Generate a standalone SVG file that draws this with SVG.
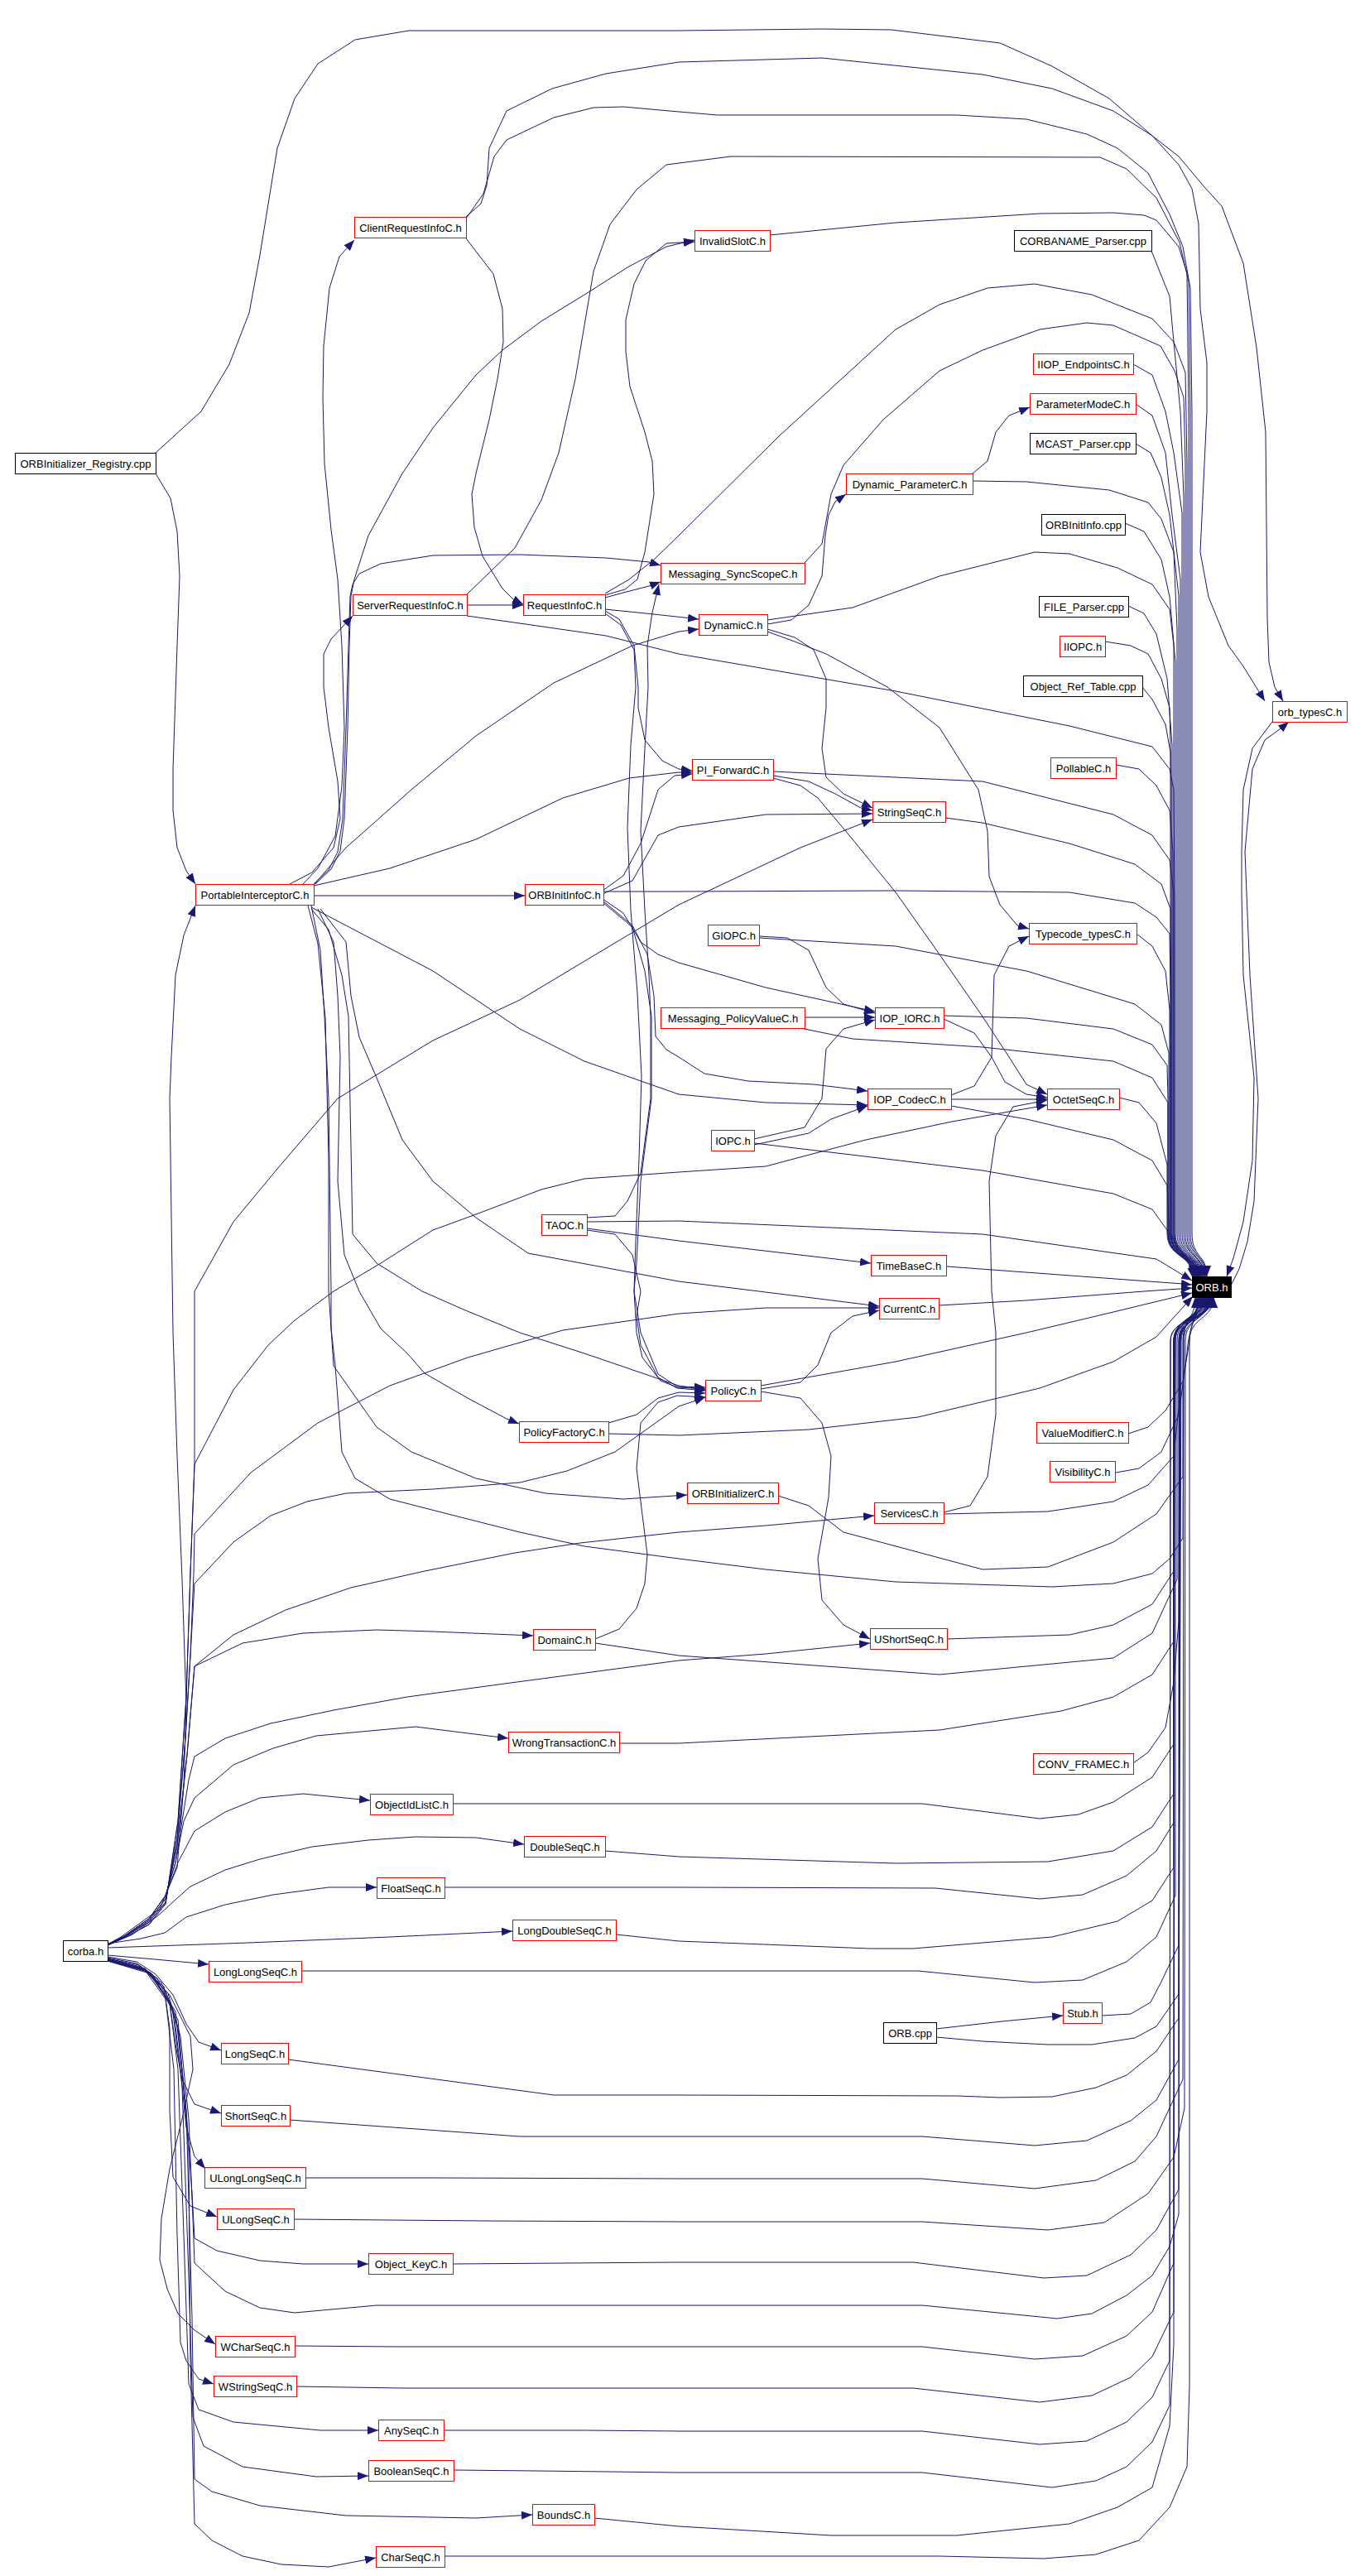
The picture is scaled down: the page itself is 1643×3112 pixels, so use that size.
<svg xmlns="http://www.w3.org/2000/svg" width="1643" height="3112" viewBox="0 0 1643 3112">
<style>
.n rect{fill:#fff;stroke:#ff0000;stroke-width:1}
.b rect{stroke:#000}
.k rect{fill:#000;stroke:#000}
.n text{font-family:"Liberation Sans",Arial,sans-serif;font-size:13px;text-anchor:middle;fill:#000}
.k text{fill:#fff}
#edges path{fill:none;stroke:#191970;stroke-width:1;stroke-linejoin:round;marker-end:url(#a)}
</style>
<defs>
<marker id="a" markerWidth="13" markerHeight="10" refX="13" refY="5" orient="auto" markerUnits="userSpaceOnUse"><path d="M0,0 L13,5 L0,10 z" fill="#191970"/></marker>
</defs>
<rect width="1643" height="3112" fill="#fff"/>
<g id="edges">
<path d="M188,572 L206,602 L214,642 L217,696 L214,780 L209,929 L209,979 L214,1024 L225,1052 L236,1068"/>
<path d="M188,547 L243,497 L277,440 L301,378 L314,308 L335,179 L356,119 L384,77 L429,48 L494,37 L820,37 L993,35 L1077,36 L1208,52 L1271,80 L1340,119 L1392,164 L1424,189 L1455,226 L1476,249 L1502,318 L1518,420 L1529,522 L1531,746 L1533,800 L1540,830 L1550,847"/>
<path d="M563,262 L581,246 L588,224 L591,179 L612,134 L667,107 L732,89 L820,75 L993,70 L1187,90 L1271,107 L1345,134 L1392,164 L1424,199 L1440,228 L1448,270 L1450,373 L1458,438 L1458,497 L1450,667 L1460,721 L1484,780 L1502,805 L1528,847"/>
<path d="M563,264 L584,234 L597,189 L612,169 L669,142 L717,130 L753,129 L820,135 L867,139 L1156,139 L1240,144 L1313,162 L1350,179 L1387,209 L1413,259 L1429,298 L1438,348 L1440,500 L1440,1490 C1440,1520 1458,1515 1458,1542"/>
<path d="M564,718 L622,662 L654,604 L675,547 L695,458 L717,328 L737,271 L769,229 L805,199 L883,189 L1329,190 L1361,204 L1397,239 L1425,293 L1436,340 L1438,500 L1438,1490 C1438,1520 1457,1515 1457,1542"/>
<path d="M930,284 L1082,269 L1256,258 L1345,257 L1382,260 L1397,266 L1424,298 L1434,330 L1436,500 L1436,1490 C1436,1520 1456,1515 1456,1542"/>
<path d="M1391,303 L1413,358 L1418,413 L1426,497 L1430,600 L1430,1490 C1430,1520 1455,1515 1455,1542"/>
<path d="M731,717 L760,700 L790,676 L820,647 L941,527 L1082,398 L1135,368 L1193,348 L1250,343 L1319,356 L1392,385 L1418,413 L1432,450 L1434,560 L1434,1490 C1434,1520 1454,1515 1454,1542"/>
<path d="M972,680 L993,657 L1004,597 L1019,562 L1067,507 L1135,448 L1187,423 L1256,398 L1313,390 L1345,393 L1402,418 L1419,448 L1430,480 L1432,560 L1432,1490 C1432,1520 1453,1515 1453,1542"/>
<path d="M1369,440 L1392,453 L1408,497 L1418,547 L1428,620 L1428,1490 C1428,1520 1452,1515 1452,1542"/>
<path d="M1372,488 L1392,502 L1408,547 L1416,622 L1426,700 L1426,1490 C1426,1520 1451,1515 1451,1542"/>
<path d="M1372,536 L1390,547 L1403,577 L1413,622 L1424,720 L1424,1490 C1424,1520 1450,1515 1450,1542"/>
<path d="M1175,581 L1240,582 L1340,592 L1387,607 L1403,627 L1418,667 L1422,760 L1422,1490 C1422,1520 1449,1515 1449,1542"/>
<path d="M1175,572 L1193,557 L1203,522 L1219,502 L1244,492"/>
<path d="M1359,632 L1382,642 L1403,676 L1413,721 L1420,800 L1420,1490 C1420,1520 1449,1515 1449,1542"/>
<path d="M927,749 L1030,734 L1135,696 L1250,667 L1292,669 L1350,686 L1392,706 L1413,736 L1418,780 L1418,1490 C1418,1520 1448,1515 1448,1542"/>
<path d="M927,754 L956,749 L977,731 L993,696 L997,647 L1001,622 L1009,606 L1022,597"/>
<path d="M1363,732 L1382,741 L1397,766 L1410,820 L1416,900 L1416,1490 C1416,1520 1447,1515 1447,1542"/>
<path d="M564,744 L628,753 L732,768 L820,790 L1082,835 L1292,877 L1392,902 L1413,929 L1418,954 L1419,1100 L1419,1490 C1419,1520 1447,1515 1447,1542"/>
<path d="M1335,775 L1366,780 L1387,790 L1403,820 L1413,855 L1415,950 L1415,1490 C1415,1520 1446,1515 1446,1542"/>
<path d="M1380,830 L1392,845 L1408,875 L1414,909 L1414,1490 C1414,1520 1446,1515 1446,1542"/>
<path d="M934,932 L1187,944 L1345,984 L1392,1009 L1413,1039 L1418,1078 L1418,1490 C1418,1520 1445,1515 1445,1542"/>
<path d="M934,937 L977,944 L1009,959 L1040,976 L1054,979"/>
<path d="M934,940 L967,949 L988,964 L1030,1014 L1082,1078 L1135,1153 L1187,1228 L1219,1277 L1240,1310 L1265,1322"/>
<path d="M1348,924 L1376,929 L1397,949 L1413,979 L1417,1029 L1417,1490 C1417,1520 1445,1515 1445,1542"/>
<path d="M1142,988 L1187,994 L1292,1019 L1371,1044 L1403,1068 L1414,1098 L1415,1200 L1415,1490 C1415,1520 1444,1515 1444,1542"/>
<path d="M728,1077 L820,1077 L1082,1076 L1292,1078 L1371,1091 L1397,1108 L1413,1128 L1414,1200 L1414,1490 C1414,1520 1444,1515 1444,1542"/>
<path d="M1373,1128 L1392,1143 L1408,1173 L1413,1220 L1413,1490 C1413,1520 1443,1515 1443,1542"/>
<path d="M917,1133 L1082,1143 L1240,1173 L1371,1213 L1403,1238 L1412,1272 L1412,1490 C1412,1520 1443,1515 1443,1542"/>
<path d="M917,1131 L951,1133 L977,1148 L998,1193 L1019,1213 L1057,1224"/>
<path d="M972,1229 L1057,1229"/>
<path d="M967,1242 L1030,1255 L1187,1265 L1345,1282 L1392,1302 L1411,1332 L1411,1490 C1411,1520 1442,1515 1442,1542"/>
<path d="M1140,1227 L1240,1230 L1345,1243 L1392,1262 L1410,1287 L1411,1327 L1411,1490 C1411,1520 1442,1515 1442,1542"/>
<path d="M1140,1231 L1177,1248 L1198,1277 L1214,1307 L1240,1322 L1265,1326"/>
<path d="M1149,1328 L1265,1328"/>
<path d="M1149,1323 L1177,1312 L1198,1277 L1201,1178 L1219,1143 L1243,1131"/>
<path d="M1149,1336 L1240,1352 L1345,1377 L1392,1402 L1410,1432 L1412,1476 L1412,1490 C1412,1520 1441,1515 1441,1542"/>
<path d="M1352,1326 L1376,1332 L1397,1357 L1410,1407 L1410,1490 C1410,1520 1441,1515 1441,1542"/>
<path d="M911,1381 L1187,1414 L1345,1442 L1392,1461 L1410,1486 C1425,1508 1438,1522 1441,1544"/>
<path d="M911,1376 L972,1362 L993,1327 L998,1267 L1019,1243 L1057,1232"/>
<path d="M911,1383 L977,1369 L1004,1352 L1048,1336"/>
<path d="M709,1476 L820,1475 L1187,1491 L1397,1521 L1440,1547"/>
<path d="M709,1484 L820,1499 L1052,1526"/>
<path d="M709,1471 L743,1469 L758,1451 L774,1417 L786,1327 L786,1228 L784,1178 L779,1100 L774,1004 L779,904 L783,830 L782,780 L788,740 L796,706"/>
<path d="M709,1486 L743,1491 L764,1516 L774,1560 L769,1590 L774,1625 L795,1664 L818,1677 L852,1680"/>
<path d="M1144,1530 L1429,1551 L1440,1552"/>
<path d="M1134,1577 L1240,1571 L1382,1560 L1440,1556"/>
<path d="M919,1674 L1082,1645 L1240,1610 L1345,1585 L1440,1562"/>
<path d="M919,1678 L967,1670 L988,1649 L1004,1610 L1030,1590 L1062,1583"/>
<path d="M919,1681 L967,1689 L993,1719 L1004,1759 L1001,1809 L988,1883 L993,1933 L1019,1963 L1051,1980"/>
<path d="M735,1719 L769,1709 L795,1689 L820,1682 L852,1683"/>
<path d="M735,1732 L820,1734 L977,1727 L1109,1712 L1256,1677 L1345,1645 L1397,1615 L1441,1566"/>
<path d="M719,1980 L748,1968 L769,1943 L779,1913 L782,1878 L769,1774 L774,1719 L795,1694 L818,1686 L852,1688"/>
<path d="M719,1985 L820,2000 L1135,2023 L1345,2003 L1392,1973 L1422,1908 L1422,1620 C1422,1590 1451,1595 1451,1567"/>
<path d="M376,1094 L387,1148 L392,1228 L397,1327 L400,1560 L400,1605 L405,1650 L413,1754 L429,1786 L471,1811 L549,1831 L628,1851 L706,1868 L820,1883 L925,1896 L1082,1911 L1271,1917 L1345,1913 L1392,1901 L1413,1883 L1429,1858 L1430,1620 C1430,1590 1444,1595 1444,1567"/>
<path d="M1363,1732 L1387,1724 L1408,1704 L1429,1669 L1437,1620 C1438,1595 1446,1595 1446,1567"/>
<path d="M1348,1779 L1376,1774 L1403,1754 L1424,1709 L1434,1635 C1436,1600 1447,1595 1447,1567"/>
<path d="M940,1807 L977,1819 L1019,1851 L1187,1896 L1266,1893 L1345,1863 L1397,1829 L1429,1784 L1429,1620 C1429,1590 1448,1595 1448,1567"/>
<path d="M1140,1829 L1266,1826 L1345,1814 L1387,1794 L1418,1759 L1424,1700 L1424,1620 C1424,1590 1449,1595 1449,1567"/>
<path d="M1140,1827 L1172,1819 L1193,1784 L1203,1709 L1203,1610 L1198,1560 L1195,1427 L1203,1372 L1224,1337 L1265,1329"/>
<path d="M1144,1980 L1292,1975 L1345,1963 L1392,1938 L1418,1898 L1420,1620 C1420,1590 1450,1595 1450,1567"/>
<path d="M748,2106 L820,2106 L1135,2090 L1282,2067 L1345,2050 L1392,2023 L1418,1983 L1418,1620 C1418,1590 1452,1595 1452,1567"/>
<path d="M1369,2130 L1387,2117 L1408,2087 L1418,2032 L1424,1958 L1425,1620 C1425,1590 1453,1595 1453,1567"/>
<path d="M547,2179 L820,2179 L1114,2179 L1256,2197 L1303,2192 L1345,2177 L1392,2147 L1418,2107 L1418,1620 C1418,1590 1454,1595 1454,1567"/>
<path d="M731,2236 L820,2243 L1082,2251 L1266,2249 L1345,2236 L1392,2207 L1418,2167 L1418,1620 C1418,1590 1455,1595 1455,1567"/>
<path d="M537,2280 L820,2280 L1130,2281 L1256,2294 L1308,2289 L1361,2266 L1397,2236 L1418,2202 L1418,1620 C1418,1590 1456,1595 1456,1567"/>
<path d="M744,2337 L820,2345 L1051,2354 L1103,2354 L1271,2340 L1350,2321 L1392,2296 L1418,2256 L1418,1620 C1418,1590 1457,1595 1457,1567"/>
<path d="M364,2381 L820,2381 L1109,2381 L1250,2395 L1308,2392 L1361,2370 L1397,2340 L1420,2290 L1420,1620 C1420,1590 1458,1595 1458,1567"/>
<path d="M1331,2435 L1366,2433 L1390,2419 L1403,2394 L1424,2350 L1424,1620 C1424,1590 1459,1595 1459,1567"/>
<path d="M1131,2451 L1210,2442 L1284,2435"/>
<path d="M1131,2461 L1187,2466 L1266,2470 L1319,2470 L1371,2462 L1397,2448 L1424,2409 L1426,1620 C1426,1590 1460,1595 1460,1567"/>
<path d="M348,2488 L669,2531 L820,2531 L1156,2532 L1208,2534 L1271,2533 L1324,2522 L1361,2507 L1397,2478 L1424,2438 L1426,1620 C1426,1590 1460,1595 1460,1567"/>
<path d="M350,2561 L628,2581 L820,2581 L1114,2581 L1250,2592 L1313,2586 L1366,2562 L1397,2537 L1424,2488 L1427,1620 C1427,1590 1461,1595 1461,1567"/>
<path d="M369,2631 L523,2631 L820,2632 L1114,2632 L1250,2644 L1324,2634 L1371,2611 L1397,2581 L1429,2512 L1430,1620 C1430,1590 1462,1595 1462,1567"/>
<path d="M355,2681 L586,2683 L820,2684 L1114,2684 L1266,2694 L1334,2685 L1387,2650 L1418,2606 L1431,2547 L1432,1620 C1432,1590 1462,1595 1462,1567"/>
<path d="M547,2735 L820,2733 L1103,2733 L1261,2752 L1313,2749 L1366,2724 L1397,2694 L1424,2645 L1425,1620 C1425,1590 1463,1595 1463,1567"/>
<path d="M130,2367 L174,2379 L203,2408 L218,2460 L228,2560 L233,2680 L235,2734 L272,2768 L314,2788 L356,2794 L455,2785 L820,2785 L1114,2785 L1145,2788 L1277,2801 L1319,2795 L1361,2773 L1392,2749 L1413,2714 L1424,2675 L1425,1620 C1425,1590 1463,1595 1463,1567"/>
<path d="M356,2834 L481,2835 L820,2835 L1114,2835 L1250,2850 L1308,2846 L1361,2822 L1392,2793 L1418,2734 L1419,1620 C1419,1590 1464,1595 1464,1567"/>
<path d="M358,2883 L486,2885 L820,2885 L1103,2885 L1256,2902 L1319,2894 L1366,2872 L1392,2847 L1418,2793 L1419,1620 C1419,1590 1464,1595 1464,1567"/>
<path d="M536,2936 L706,2936 L820,2937 L1114,2937 L1256,2953 L1313,2949 L1361,2926 L1392,2896 L1413,2852 L1414,1620 C1414,1590 1465,1595 1465,1567"/>
<path d="M548,2984 L649,2985 L820,2987 L1114,2987 L1271,3005 L1324,2997 L1361,2980 L1392,2950 L1413,2906 L1414,1620 C1414,1590 1465,1595 1465,1567"/>
<path d="M718,3042 L820,3052 L1004,3063 L1156,3063 L1292,3049 L1350,3029 L1392,3005 L1413,2931 L1418,2832 L1418,1620 C1418,1590 1466,1595 1466,1567"/>
<path d="M537,3088 L820,3088 L1135,3088 L1261,3091 L1324,3086 L1376,3069 L1413,3029 L1434,2980 L1437,2882 L1437,1620 C1437,1590 1466,1595 1466,1567"/>
<path d="M1537,872 L1513,904 L1502,954 L1500,1029 L1500,1078 L1502,1178 L1515,1302 L1513,1402 L1502,1476 L1490,1520 L1482,1542"/>
<path d="M1487,1553 L1497,1533 L1507,1500 L1515,1451 L1520,1327 L1510,1178 L1504,1029 L1513,929 L1528,894 L1550,878 L1557,872"/>
<path d="M130,2349 L146,2340 L193,2306 L214,2256 L222,2157 L225,2057 L220,1908 L214,1759 L209,1610 L205,1327 L207,1277 L212,1178 L222,1130 L236,1094"/>
<path d="M130,2350 L150,2341 L180,2325 L200,2300 L215,2200 L225,2050 L230,1900 L235,1769 L235,1560 L282,1476 L335,1412 L408,1327 L523,1257 L628,1208 L820,1093 L967,1024 L1054,990"/>
<path d="M130,2350 L150,2341 L180,2325 L200,2300 L215,2200 L225,2050 L230,1900 L235,1769 L282,1679 L324,1625 L356,1595 L403,1560 L460,1526 L523,1486 L575,1467 L654,1437 L706,1424 L820,1416 L925,1409 L1046,1377 L1150,1355 L1265,1335"/>
<path d="M130,2350 L150,2340 L180,2322 L200,2298 L214,2220 L224,2100 L230,2000 L234,1900 L235,1853 L303,1779 L384,1719 L471,1674 L565,1640 L680,1607 L820,1587 L925,1580 L1062,1580"/>
<path d="M130,2350 L150,2340 L180,2322 L200,2298 L214,2220 L224,2100 L230,2000 L235,1913 L282,1863 L327,1831 L371,1814 L418,1804 L523,1799 L628,1791 L685,1777 L743,1754 L785,1724 L820,1699 L852,1688"/>
<path d="M130,2350 L150,2340 L180,2320 L200,2294 L214,2230 L226,2120 L235,2013 L282,1975 L345,1945 L424,1918 L513,1898 L622,1876 L701,1864 L820,1851 L925,1843 L1056,1831"/>
<path d="M130,2350 L150,2340 L180,2320 L200,2294 L214,2230 L226,2120 L235,2013 L293,1985 L366,1973 L455,1969 L523,1971 L644,1976"/>
<path d="M130,2349 L150,2339 L180,2318 L200,2290 L212,2250 L220,2200 L228,2150 L235,2122 L272,2100 L327,2082 L403,2066 L492,2050 L617,2033 L820,2006 L925,1998 L1051,1985"/>
<path d="M130,2349 L150,2339 L180,2318 L200,2290 L212,2250 L222,2200 L235,2172 L282,2132 L330,2112 L382,2097 L502,2086 L614,2100"/>
<path d="M130,2349 L150,2339 L180,2318 L200,2290 L215,2250 L235,2212 L272,2189 L314,2172 L366,2167 L447,2175"/>
<path d="M130,2350 L160,2337 L190,2315 L212,2295 L230,2279 L272,2259 L314,2246 L377,2231 L445,2223 L502,2219 L575,2220 L633,2228"/>
<path d="M130,2348 L170,2342 L199,2335 L225,2316 L272,2301 L330,2289 L397,2280 L455,2280"/>
<path d="M130,2353 L300,2347 L471,2340 L619,2333"/>
<path d="M130,2362 L187,2367 L252,2373"/>
<path d="M130,2364 L165,2370 L188,2385 L209,2410 L225,2445 L240,2467 L267,2477"/>
<path d="M130,2365 L165,2372 L190,2390 L205,2420 L212,2470 L220,2512 L235,2542 L267,2553"/>
<path d="M130,2366 L168,2374 L195,2395 L210,2430 L218,2500 L225,2570 L235,2605 L248,2620"/>
<path d="M130,2366 L170,2376 L198,2400 L205,2450 L205,2550 L209,2630 L230,2665 L262,2678"/>
<path d="M130,2367 L172,2378 L200,2405 L215,2450 L225,2550 L232,2650 L235,2704 L262,2719 L314,2731 L366,2735 L445,2735"/>
<path d="M130,2367 L175,2378 L205,2410 L230,2460 L233,2500 L220,2560 L205,2620 L195,2680 L193,2730 L202,2765 L215,2795 L235,2815 L260,2832"/>
<path d="M130,2368 L175,2380 L200,2415 L210,2500 L214,2700 L218,2830 L225,2852 L240,2874 L258,2880"/>
<path d="M130,2368 L178,2381 L205,2420 L215,2500 L222,2700 L228,2880 L240,2911 L282,2926 L387,2936 L457,2936"/>
<path d="M130,2368 L180,2382 L208,2425 L220,2520 L228,2750 L233,2920 L246,2955 L293,2980 L382,2992 L445,2991"/>
<path d="M130,2369 L182,2383 L212,2430 L225,2550 L232,2800 L235,2995 L256,3010 L314,3027 L418,3039 L575,3042 L643,3038"/>
<path d="M130,2369 L184,2385 L215,2440 L228,2600 L230,2850 L235,3049 L256,3069 L293,3088 L340,3098 L397,3101 L454,3090"/>
<path d="M350,1068 L377,1054 L403,1024 L411,989 L408,944 L397,879 L391,830 L391,790 L400,772 L414,757 L426,744"/>
<path d="M366,1068 L384,1049 L405,1010 L413,950 L416,880 L413,780 L408,700 L400,640 L392,560 L390,480 L391,418 L398,348 L410,310 L428,290"/>
<path d="M379,1068 L397,1051 L408,1029 L414,989 L418,879 L421,780 L423,720 L426,706 L434,693 L460,681 L523,671 L628,670 L732,674 L784,679 L798,683"/>
<path d="M381,1068 L400,1050 L411,1028 L416,989 L420,879 L422,780 L424,720 L428,700 L445,647 L486,572 L523,517 L575,453 L607,423 L654,388 L711,353 L758,323 L805,298 L839,290"/>
<path d="M379,1069 L418,1024 L497,954 L575,889 L669,825 L764,780 L820,763 L844,760"/>
<path d="M379,1070 L471,1049 L575,1014 L680,964 L760,940 L820,933 L836,933"/>
<path d="M379,1082 L634,1082"/>
<path d="M376,1096 L418,1118 L523,1173 L628,1243 L706,1282 L820,1322 L925,1332 L1048,1335"/>
<path d="M387,1098 L418,1138 L424,1203 L434,1253 L455,1302 L486,1377 L523,1427 L575,1471 L638,1514 L820,1548 L1062,1578"/>
<path d="M376,1098 L397,1123 L413,1178 L421,1228 L426,1491 L455,1526 L510,1560 L560,1582 L628,1610 L706,1635 L820,1674 L852,1679"/>
<path d="M384,1098 L403,1138 L408,1203 L411,1277 L408,1427 L416,1516 L434,1560 L460,1605 L492,1635 L513,1659 L565,1689 L612,1714 L627,1720"/>
<path d="M372,1094 L384,1140 L393,1230 L397,1400 L397,1560 L403,1650 L455,1724 L497,1754 L575,1786 L659,1804 L753,1811 L830,1806"/>
<path d="M563,288 L596,331 L607,373 L608,413 L601,458 L591,507 L575,572 L570,597 L573,637 L583,672 L607,711 L620,724 L632,730"/>
<path d="M564,731 L632,731"/>
<path d="M731,722 L753,716 L784,708 L798,703"/>
<path d="M731,736 L790,742 L844,748"/>
<path d="M731,738 L748,748 L766,780 L771,830 L771,855 L779,894 L800,919 L820,929 L836,931"/>
<path d="M731,741 L750,755 L766,785 L768,830 L762,900 L758,1000 L762,1100 L770,1200 L775,1300 L772,1400 L768,1500 L766,1560 L769,1610 L776,1640 L798,1668 L818,1676 L852,1678"/>
<path d="M731,719 L755,712 L770,700 L779,667 L790,597 L788,557 L779,522 L761,467 L756,425 L756,386 L766,343 L780,315 L805,294 L839,292"/>
<path d="M728,1080 L764,1064 L795,1009 L820,999 L925,984 L1054,983"/>
<path d="M728,1076 L753,1058 L774,1019 L795,954 L815,937 L836,935"/>
<path d="M728,1086 L753,1103 L774,1138 L795,1153 L820,1163 L925,1193 L1057,1222"/>
<path d="M728,1088 L764,1118 L782,1153 L790,1203 L792,1252 L805,1268 L820,1277 L851,1297 L904,1306 L983,1310 L1048,1318"/>
<path d="M728,1090 L764,1120 L779,1173 L787,1228 L787,1327 L774,1427 L769,1526 L766,1560 L774,1610 L795,1660 L818,1675 L852,1676"/>
<path d="M927,760 L960,770 L983,785 L998,820 L998,855 L993,904 L998,939 L1019,959 L1054,976"/>
<path d="M927,763 L960,775 L998,790 L1072,830 L1135,879 L1182,954 L1193,1004 L1195,1059 L1208,1093 L1229,1118 L1243,1122"/>
</g>
<g id="n1" class="n b"><rect x="18.5" y="547.5" width="170" height="25"/><text x="103.5" y="564.5">ORBInitializer_Registry.cpp</text></g>
<g id="n2" class="n"><rect x="428.5" y="262.5" width="135" height="25"/><text x="496" y="279.5">ClientRequestInfoC.h</text></g>
<g id="n3" class="n"><rect x="839.5" y="278.5" width="91" height="25"/><text x="885" y="295.5">InvalidSlotC.h</text></g>
<g id="n4" class="n b"><rect x="1225.5" y="278.5" width="166" height="25"/><text x="1308.5" y="295.5">CORBANAME_Parser.cpp</text></g>
<g id="n5" class="n"><rect x="1248.5" y="427.5" width="121" height="25"/><text x="1309" y="444.5">IIOP_EndpointsC.h</text></g>
<g id="n6" class="n"><rect x="1244.5" y="475.5" width="128" height="25"/><text x="1308.5" y="492.5">ParameterModeC.h</text></g>
<g id="n7" class="n b"><rect x="1244.5" y="523.5" width="128" height="25"/><text x="1308.5" y="540.5">MCAST_Parser.cpp</text></g>
<g id="n8" class="n"><rect x="1022.5" y="572.5" width="153" height="25"/><text x="1099" y="589.5">Dynamic_ParameterC.h</text></g>
<g id="n9" class="n b"><rect x="1258.5" y="621.5" width="101" height="25"/><text x="1309" y="638.5">ORBInitInfo.cpp</text></g>
<g id="n10" class="n"><rect x="798.5" y="680.5" width="174" height="25"/><text x="885.5" y="697.5">Messaging_SyncScopeC.h</text></g>
<g id="n11" class="n"><rect x="426.5" y="718.5" width="138" height="25"/><text x="495.5" y="735.5">ServerRequestInfoC.h</text></g>
<g id="n12" class="n"><rect x="632.5" y="718.5" width="99" height="25"/><text x="682" y="735.5">RequestInfoC.h</text></g>
<g id="n13" class="n b"><rect x="1255.5" y="720.5" width="108" height="25"/><text x="1309.5" y="737.5">FILE_Parser.cpp</text></g>
<g id="n14" class="n"><rect x="844.5" y="742.5" width="83" height="25"/><text x="886" y="759.5">DynamicC.h</text></g>
<g id="n15" class="n"><rect x="1280.5" y="768.5" width="55" height="25"/><text x="1308" y="785.5">IIOPC.h</text></g>
<g id="n16" class="n b"><rect x="1236.5" y="816.5" width="144" height="25"/><text x="1308.5" y="833.5">Object_Ref_Table.cpp</text></g>
<g id="n17" class="n"><rect x="1537.5" y="847.5" width="90" height="25"/><text x="1582.5" y="864.5">orb_typesC.h</text></g>
<g id="n18" class="n"><rect x="1269.5" y="915.5" width="79" height="25"/><text x="1309" y="932.5">PollableC.h</text></g>
<g id="n19" class="n"><rect x="836.5" y="917.5" width="98" height="25"/><text x="885.5" y="934.5">PI_ForwardC.h</text></g>
<g id="n20" class="n"><rect x="1054.5" y="968.5" width="88" height="25"/><text x="1098.5" y="985.5">StringSeqC.h</text></g>
<g id="n21" class="n"><rect x="236.5" y="1068.5" width="143" height="25"/><text x="308" y="1085.5">PortableInterceptorC.h</text></g>
<g id="n22" class="n"><rect x="634.5" y="1068.5" width="95" height="25"/><text x="682" y="1085.5">ORBInitInfoC.h</text></g>
<g id="n23" class="n"><rect x="1243.5" y="1115.5" width="130" height="25"/><text x="1308.5" y="1132.5">Typecode_typesC.h</text></g>
<g id="n24" class="n"><rect x="855.5" y="1117.5" width="62" height="25"/><text x="886.5" y="1134.5">GIOPC.h</text></g>
<g id="n25" class="n"><rect x="798.5" y="1217.5" width="174" height="25"/><text x="885.5" y="1234.5">Messaging_PolicyValueC.h</text></g>
<g id="n26" class="n"><rect x="1057.5" y="1217.5" width="83" height="25"/><text x="1099" y="1234.5">IOP_IORC.h</text></g>
<g id="n27" class="n"><rect x="1048.5" y="1315.5" width="101" height="25"/><text x="1099" y="1332.5">IOP_CodecC.h</text></g>
<g id="n28" class="n"><rect x="1265.5" y="1315.5" width="87" height="25"/><text x="1309" y="1332.5">OctetSeqC.h</text></g>
<g id="n29" class="n"><rect x="859.5" y="1365.5" width="52" height="25"/><text x="885.5" y="1382.5">IOPC.h</text></g>
<g id="n30" class="n"><rect x="654.5" y="1467.5" width="55" height="25"/><text x="682" y="1484.5">TAOC.h</text></g>
<g id="n31" class="n"><rect x="1052.5" y="1516.5" width="91" height="25"/><text x="1098" y="1533.5">TimeBaseC.h</text></g>
<g id="n32" class="n k"><rect x="1440.5" y="1542.5" width="47" height="25"/><text x="1464" y="1559.5">ORB.h</text></g>
<g id="n33" class="n"><rect x="1062.5" y="1568.5" width="72" height="25"/><text x="1098.5" y="1585.5">CurrentC.h</text></g>
<g id="n34" class="n"><rect x="852.5" y="1667.5" width="67" height="25"/><text x="886" y="1684.5">PolicyC.h</text></g>
<g id="n35" class="n"><rect x="627.5" y="1717.5" width="108" height="25"/><text x="681.5" y="1734.5">PolicyFactoryC.h</text></g>
<g id="n36" class="n"><rect x="1252.5" y="1718.5" width="111" height="25"/><text x="1308" y="1735.5">ValueModifierC.h</text></g>
<g id="n37" class="n"><rect x="1268.5" y="1765.5" width="79" height="25"/><text x="1308" y="1782.5">VisibilityC.h</text></g>
<g id="n38" class="n"><rect x="830.5" y="1791.5" width="110" height="25"/><text x="885.5" y="1808.5">ORBInitializerC.h</text></g>
<g id="n39" class="n"><rect x="1056.5" y="1815.5" width="84" height="25"/><text x="1098.5" y="1832.5">ServicesC.h</text></g>
<g id="n40" class="n"><rect x="1051.5" y="1967.5" width="93" height="25"/><text x="1098" y="1984.5">UShortSeqC.h</text></g>
<g id="n41" class="n"><rect x="644.5" y="1968.5" width="75" height="25"/><text x="682" y="1985.5">DomainC.h</text></g>
<g id="n42" class="n"><rect x="614.5" y="2092.5" width="134" height="25"/><text x="681.5" y="2109.5">WrongTransactionC.h</text></g>
<g id="n43" class="n"><rect x="1248.5" y="2118.5" width="121" height="25"/><text x="1309" y="2135.5">CONV_FRAMEC.h</text></g>
<g id="n44" class="n"><rect x="447.5" y="2167.5" width="100" height="25"/><text x="497.5" y="2184.5">ObjectIdListC.h</text></g>
<g id="n45" class="n"><rect x="633.5" y="2218.5" width="98" height="25"/><text x="682.5" y="2235.5">DoubleSeqC.h</text></g>
<g id="n46" class="n"><rect x="455.5" y="2268.5" width="82" height="25"/><text x="496.5" y="2285.5">FloatSeqC.h</text></g>
<g id="n47" class="n"><rect x="619.5" y="2319.5" width="125" height="25"/><text x="682" y="2336.5">LongDoubleSeqC.h</text></g>
<g id="n48" class="n b"><rect x="76.5" y="2344.5" width="54" height="25"/><text x="103.5" y="2361.5">corba.h</text></g>
<g id="n49" class="n"><rect x="252.5" y="2369.5" width="112" height="25"/><text x="308.5" y="2386.5">LongLongSeqC.h</text></g>
<g id="n50" class="n"><rect x="1284.5" y="2419.5" width="47" height="25"/><text x="1308" y="2436.5">Stub.h</text></g>
<g id="n51" class="n b"><rect x="1067.5" y="2443.5" width="64" height="25"/><text x="1099.5" y="2460.5">ORB.cpp</text></g>
<g id="n52" class="n"><rect x="267.5" y="2468.5" width="81" height="25"/><text x="308" y="2485.5">LongSeqC.h</text></g>
<g id="n53" class="n"><rect x="267.5" y="2543.5" width="83" height="25"/><text x="309" y="2560.5">ShortSeqC.h</text></g>
<g id="n54" class="n"><rect x="247.5" y="2618.5" width="122" height="25"/><text x="308.5" y="2635.5">ULongLongSeqC.h</text></g>
<g id="n55" class="n"><rect x="262.5" y="2668.5" width="93" height="25"/><text x="309" y="2685.5">ULongSeqC.h</text></g>
<g id="n56" class="n"><rect x="445.5" y="2722.5" width="102" height="25"/><text x="496.5" y="2739.5">Object_KeyC.h</text></g>
<g id="n57" class="n"><rect x="260.5" y="2822.5" width="96" height="25"/><text x="308.5" y="2839.5">WCharSeqC.h</text></g>
<g id="n58" class="n"><rect x="258.5" y="2870.5" width="100" height="25"/><text x="308.5" y="2887.5">WStringSeqC.h</text></g>
<g id="n59" class="n"><rect x="457.5" y="2923.5" width="79" height="25"/><text x="497" y="2940.5">AnySeqC.h</text></g>
<g id="n60" class="n"><rect x="445.5" y="2972.5" width="103" height="25"/><text x="497" y="2989.5">BooleanSeqC.h</text></g>
<g id="n61" class="n"><rect x="643.5" y="3025.5" width="75" height="25"/><text x="681" y="3042.5">BoundsC.h</text></g>
<g id="n62" class="n"><rect x="454.5" y="3076.5" width="83" height="25"/><text x="496" y="3093.5">CharSeqC.h</text></g>
</svg>
